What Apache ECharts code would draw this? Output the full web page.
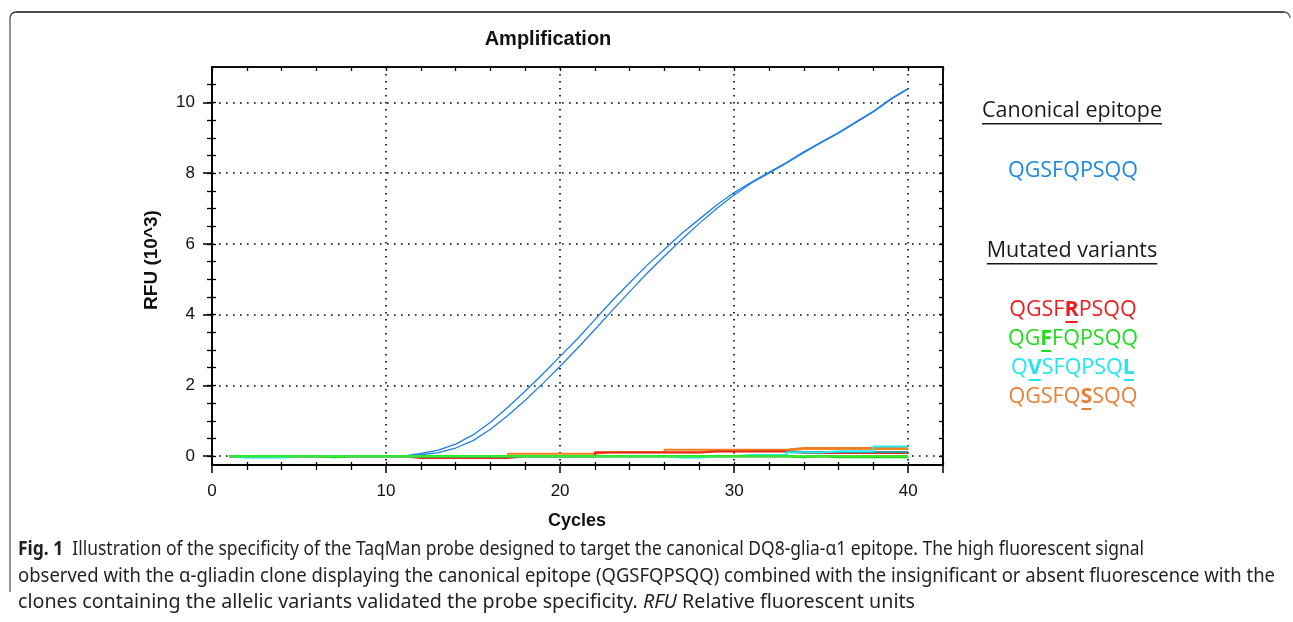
<!DOCTYPE html>
<html>
<head>
<meta charset="utf-8">
<script src="https://cdn.jsdelivr.net/npm/echarts@6/dist/echarts.min.js"></script>
<style>
  html, body { margin: 0; padding: 0; background: #fff; }
  #chart { width: 1293px; height: 622px; }
</style>
</head>
<body>
<div id="chart"></div>
<script>
// cycles and fluorescence (RFU x10^3)
const cycles = [1,2,3,4,5,6,7,8,9,10,11,12,13,14,15,16,17,18,19,20,21,22,23,24,25,26,27,28,29,30,31,32,33,34,35,36,37,38,39,40];

const canonA = [0,0,0,0,0,0,0,0,0,0,0,0.08,0.17,0.34,0.6,0.96,1.38,1.84,2.32,2.82,3.32,3.86,4.4,4.9,5.4,5.85,6.3,6.7,7.1,7.45,7.75,8.02,8.3,8.6,8.88,9.15,9.45,9.75,10.1,10.4];
const canonB = [0,0,0,0,0,0,0,0,0,0,0,0.04,0.1,0.23,0.44,0.76,1.15,1.58,2.05,2.54,3.05,3.58,4.12,4.65,5.17,5.66,6.13,6.58,7.0,7.38,7.72,8.0,8.28,8.58,8.86,9.13,9.43,9.73,10.08,10.38];

const redA = [0,0,0,0,0,0,0,0,0,0,0,0,0,0,0,0,0,0,0,0,0,0,0.1,0.1,0.1,0.1,0.1,0.1,0.13,0.13,0.13,0.13,0.13,0.09,0.09,0.09,0.09,0.09,0.09,0.09];
const redB = [0,0,0,0,0,0,0,0,0,0,0,-0.05,-0.05,-0.05,-0.05,-0.05,-0.05,0,0,0,0,0,0,0,0,0,0,0,0,0,0,0,0,-0.02,0,0,-0.01,0,0,0];
const greenA = [0,0,0,0,0,0,0,0,0,0,0,0,0,0,0,0,0,0,0,0,0,0,0,0,0,0,0,0,0,0,0,0,0,0,0,0,0,0,0,0];
const greenB = [0,0,0,0,0,0,-0.03,0,0,0,0,0,0,0,0,0,0,0,0,0,0,0,0,0,0,0,0,0,0,0,0,0,0,-0.03,0,-0.03,-0.03,-0.03,-0.03,-0.03];
const cyanA = [0,-0.04,-0.04,-0.04,0,0,0,0,0,0,0,0,0,0,0,0,0,0,0,0,0,0,0,0,0,0,-0.04,-0.04,0,0,0.03,0.03,0.03,0.1,0.1,0.14,0.14,0.14,0.27,0.27];
const cyanB = [0,0,0,0,0,0,0,0,0,0,0,0,0,0,0,0,0,0,0,0,0,0,0,0,0,0,0,0,0,0,0,0,0,0.12,0.12,0.12,0.12,0.12,0.12,0.12];
const orangeA = [0,0,0,0,0,0,0,0,0,0,0,0,0,0,0,0,0,0.07,0.07,0.07,0.07,0.07,0.12,0.12,0.12,0.12,0.18,0.18,0.18,0.18,0.18,0.18,0.18,0.23,0.23,0.23,0.23,0.23,0.23,0.23];
const orangeB = [0,0,0,0,0,0,0,0,0,0,0,0,0,0,0,0,0,0,0,0,0,0,0.11,0.11,0.11,0.11,0.11,0.11,0.15,0.15,0.15,0.15,0.15,0.2,0.2,0.2,0.2,0.2,0.2,0.2];

// axis tick values
const yMajor = [0, 2, 4, 6, 8, 10];
const yMinor = [0, 0.5, 1, 1.5, 2, 2.5, 3, 3.5, 4, 4.5, 5, 5.5, 6, 6.5, 7, 7.5, 8, 8.5, 9, 9.5, 10, 10.5];

const canonical = 'QGSFQPSQQ';
const variants = [
  { text: 'QGSFRPSQQ', bold: [4], color: '#ea2020' },
  { text: 'QGFFQPSQQ', bold: [2], color: '#1fdc1f' },
  { text: 'QVSFQPSQL', bold: [1, 8], color: '#22e6ee' },
  { text: 'QGSFQSSQQ', bold: [5], color: '#e8803a' }
];

const captionLines = [
  [['b', 'Fig. 1'], ['n', '  Illustration of the specificity of the TaqMan probe designed to target the canonical DQ8-glia-\u03b11 epitope. The high fluorescent signal']],
  [['n', 'observed with the \u03b1-gliadin clone displaying the canonical epitope (QGSFQPSQQ) combined with the insignificant or absent fluorescence with the']],
  [['n', 'clones containing the allelic variants validated the probe specificity. '], ['i', 'RFU'], ['n', ' Relative fluorescent units']]
];
const captionWidths = [1126, 1257, 897];

const chart = echarts.init(document.getElementById('chart'));
const ctx = document.createElement('canvas').getContext('2d');
function tw(text, font) { ctx.font = font; return ctx.measureText(text).width; }

const axisFont = 'Liberation Sans, Arial, sans-serif';
const sideFont = 'Open Sans';
const capFont = 'Noto Sans';

function mk(name, data, color, width) {
  return {
    name: name, type: 'line', data: cycles.map((c, i) => [c, data[i]]),
    showSymbol: false, step: name.indexOf('canon') === 0 ? false : 'start',
    lineStyle: { color: color, width: width }, itemStyle: { color: color },
    silent: true, animation: false
  };
}

const graphics = [];

// rounded frame around the figure
graphics.push({ type: 'polyline', shape: { points: [[16, 12], [1284, 12]] }, style: { stroke: '#111', lineWidth: 1.3, fill: null } });
graphics.push({ type: 'polyline', shape: { points: [[10, 18], [10, 592]] }, style: { stroke: '#555', lineWidth: 1.3, fill: null } });
graphics.push({ type: 'arc', shape: { cx: 16, cy: 18, r: 6, startAngle: Math.PI, endAngle: Math.PI * 1.5 }, style: { stroke: '#333', lineWidth: 1.3, fill: null } });
graphics.push({ type: 'arc', shape: { cx: 1284, cy: 18, r: 6, startAngle: Math.PI * 1.5, endAngle: Math.PI * 2 }, style: { stroke: '#555', lineWidth: 1.3, fill: null } });

// titles
graphics.push({ type: 'text', x: 548, y: 39, style: { text: 'Amplification', fontFamily: axisFont, fontWeight: 'bold', fontSize: 20, fill: '#111', align: 'center', verticalAlign: 'middle' } });
graphics.push({ type: 'text', x: 577, y: 521, style: { text: 'Cycles', fontFamily: axisFont, fontWeight: 'bold', fontSize: 18, fill: '#111', align: 'center', verticalAlign: 'middle' } });
graphics.push({ type: 'text', x: 152, y: 260, rotation: Math.PI / 2, style: { text: 'RFU (10^3)', fontFamily: axisFont, fontWeight: 'bold', fontSize: 19, fill: '#111', align: 'center', verticalAlign: 'middle' } });

// right side labels
function header(text, cy) {
  const fs = 21.5;
  const w = tw(text, fs + 'px "' + sideFont + '"');
  graphics.push({ type: 'text', x: 1072, y: cy, style: { text: text, fontFamily: sideFont, fontSize: fs, fill: '#1a1a1a', align: 'center', verticalAlign: 'middle' } });
  graphics.push({ type: 'rect', shape: { x: 1072 - w / 2, y: cy + 12, width: w, height: 1.5 }, style: { fill: '#1a1a1a' } });
}
header('Canonical epitope', 111);
header('Mutated variants', 251);
graphics.push({ type: 'text', x: 1073, y: 171, style: { text: canonical, fontFamily: sideFont, fontSize: 21.5, fill: '#1f88e2', align: 'center', verticalAlign: 'middle' } });

const varY = [310, 339, 368, 397];
variants.forEach((v, k) => {
  const fs = 21.5;
  const nf = fs + 'px "' + sideFont + '"', bf = 'bold ' + fs + 'px "' + sideFont + '"';
  let total = 0; const pos = [];
  let rich = '';
  for (let i = 0; i < v.text.length; i++) {
    const b = v.bold.indexOf(i) >= 0;
    const w = tw(v.text[i], b ? bf : nf);
    pos.push([total, w, b]);
    total += w;
    rich += b ? '{b|' + v.text[i] + '}' : '{n|' + v.text[i] + '}';
  }
  const x0 = 1073 - total / 2;
  graphics.push({ type: 'text', x: x0, y: varY[k], style: { text: rich, align: 'left', verticalAlign: 'middle',
    rich: { n: { fontFamily: sideFont, fontSize: fs, fill: v.color }, b: { fontFamily: sideFont, fontSize: fs, fontWeight: 'bold', fill: v.color } } } });
  pos.forEach(p => {
    if (p[2]) graphics.push({ type: 'rect', shape: { x: x0 + p[0] + 1, y: varY[k] + 11, width: p[1] - 2, height: 2 }, style: { fill: v.color } });
  });
});

// caption (condensed look: measured width, squeezed to fit the line length)
const capY = [549, 576, 602];
captionLines.forEach((line, k) => {
  const fs = 19.5;
  const fonts = { n: fs + 'px "' + capFont + '"', b: 'bold ' + fs + 'px "' + capFont + '"', i: 'italic ' + fs + 'px "' + capFont + '"' };
  let w = 0, txt = '';
  line.forEach(seg => { w += tw(seg[1], fonts[seg[0]]); txt += '{' + seg[0] + '|' + seg[1] + '}'; });
  graphics.push({ type: 'text', x: 18, y: capY[k], scaleX: captionWidths[k] / w, style: { text: txt, align: 'left', verticalAlign: 'middle',
    rich: {
      n: { fontFamily: capFont, fontSize: fs, fill: '#231f20' },
      b: { fontFamily: capFont, fontSize: fs, fontWeight: 'bold', fill: '#231f20' },
      i: { fontFamily: capFont, fontSize: fs, fontStyle: 'italic', fill: '#231f20' }
    } } });
});

const xBase = { type: 'value', min: 0, max: 42, interval: 10 };
const yBase = { type: 'value', min: -0.25, max: 11 };
const dotted = { show: true, lineStyle: { color: '#000', width: 1.6, type: [1.6, 5.4] } };
const tickLine = { color: '#000', width: 1.3 };

chart.setOption({
  animation: false,
  backgroundColor: '#fff',
  grid: { left: 212, right: 350, top: 67, bottom: 157, show: true, borderColor: '#000', borderWidth: 1.5, backgroundColor: 'transparent' },
  xAxis: [
    Object.assign({}, xBase, {
      position: 'bottom',
      axisLine: { show: true, onZero: false, lineStyle: { color: '#000', width: 1.8 } },
      axisTick: { show: true, inside: false, length: 8, lineStyle: { color: '#000', width: 1.5 } },
      minorTick: { show: true, splitNumber: 5, length: 5, lineStyle: tickLine },
      axisLabel: { show: true, margin: 18, fontFamily: axisFont, fontSize: 17, color: '#111', showMaxLabel: false },
      splitLine: dotted
    }),
    Object.assign({}, xBase, {
      position: 'top',
      axisLine: { show: true, onZero: false, lineStyle: { color: '#000', width: 1.5 } },
      axisTick: { show: true, inside: true, length: 4, lineStyle: tickLine },
      minorTick: { show: true, splitNumber: 5, length: 4, lineStyle: tickLine },
      axisLabel: { show: false }, splitLine: { show: false }
    }),
    Object.assign({}, xBase, {
      position: 'bottom',
      axisLine: { show: false, onZero: false },
      axisTick: { show: true, inside: true, length: 3, lineStyle: tickLine },
      minorTick: { show: true, splitNumber: 5, length: 3, lineStyle: tickLine },
      axisLabel: { show: false }, splitLine: { show: false }
    })
  ],
  yAxis: [
    Object.assign({}, yBase, {
      position: 'left',
      axisLine: { show: true, onZero: false, lineStyle: { color: '#000', width: 1.8 } },
      axisTick: { show: true, inside: false, length: 9, customValues: yMajor, lineStyle: { color: '#000', width: 1.5 } },
      axisLabel: { show: true, margin: 17, customValues: yMajor, fontFamily: axisFont, fontSize: 17, color: '#111' },
      splitLine: dotted
    }),
    Object.assign({}, yBase, {
      position: 'right',
      axisLine: { show: true, onZero: false, lineStyle: { color: '#000', width: 1.5 } },
      axisTick: { show: true, inside: true, length: 4, customValues: yMinor, lineStyle: tickLine },
      axisLabel: { show: false }, splitLine: { show: false }
    }),
    Object.assign({}, yBase, {
      position: 'left',
      axisLine: { show: false, onZero: false },
      axisTick: { show: true, inside: true, length: 4, customValues: yMinor, lineStyle: tickLine },
      axisLabel: { show: false }, splitLine: { show: false }
    }),
    Object.assign({}, yBase, {
      position: 'left',
      axisLine: { show: false, onZero: false },
      axisTick: { show: true, inside: false, length: 5, customValues: yMinor, lineStyle: tickLine },
      axisLabel: { show: false }, splitLine: { show: false }
    })
  ],
  series: [
    mk('canonA', canonA, '#1f7fe6', 1.3),
    mk('canonB', canonB, '#1f7fe6', 1.3),
    mk('orangeB', orangeB, '#ef8a2c', 2),
    mk('orangeA', orangeA, '#ef7d22', 2),
    mk('redA', redA, '#e8261a', 2),
    mk('redB', redB, '#e02a1a', 2),
    mk('cyanB', cyanB, '#2a9aa0', 2),
    mk('cyanA', cyanA, '#26eaf2', 2),
    mk('greenB', greenB, '#10d010', 2.2),
    mk('greenA', greenA, '#34ee34', 2)
  ],
  graphic: { elements: graphics }
});
</script>
</body>
</html>
